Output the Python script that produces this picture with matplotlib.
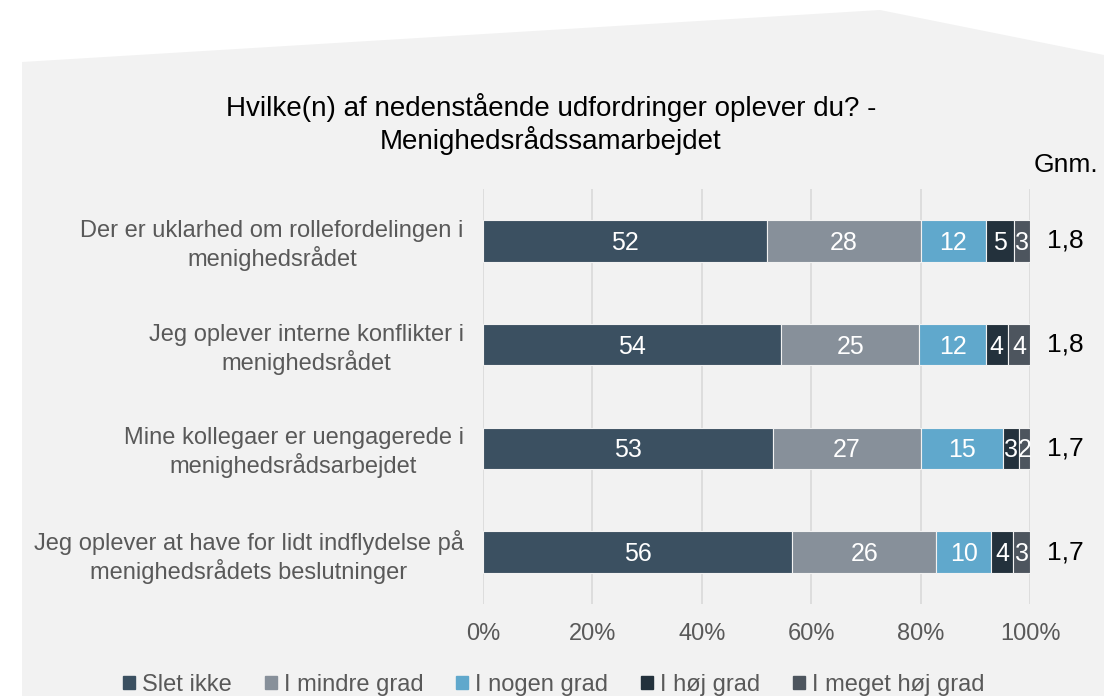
import numpy as np
import pandas as pd
import matplotlib.pyplot as plt
from matplotlib.patches import Polygon

plt.rcParams['font.family'] = ['Liberation Sans', 'DejaVu Sans']

title = "Hvilke(n) af nedenstående udfordringer oplever du? -\nMenighedsrådssamarbejdet"
questions = [
    "Der er uklarhed om rollefordelingen i\nmenighedsrådet",
    "Jeg oplever interne konflikter i\nmenighedsrådet",
    "Mine kollegaer er uengagerede i\nmenighedsrådsarbejdet",
    "Jeg oplever at have for lidt indflydelse på\nmenighedsrådets beslutninger",
]
levels = ["Slet ikke", "I mindre grad", "I nogen grad", "I høj grad", "I meget høj grad"]
slet_ikke = [52, 54, 53, 56]
mindre = [28, 25, 27, 26]
nogen = [12, 12, 15, 10]
hoej = [5, 4, 3, 4]
meget_hoej = [3, 4, 2, 3]
gnm = ["1,8", "1,8", "1,7", "1,7"]

colors = ["#3B5061", "#87909A", "#60A8CC", "#23313C", "#4D555E"]
bg = "#F2F2F2"

df = pd.DataFrame({"Slet ikke": slet_ikke, "I mindre grad": mindre, "I nogen grad": nogen,
                   "I høj grad": hoej, "I meget høj grad": meget_hoej}, index=questions)
# 100% stacked: scale each row so the bar ends at 100
shares = df.div(df.sum(axis=1), axis=0)

W, H = 1104, 696
fig = plt.figure(figsize=(W / 100, H / 100), dpi=100)
fig.patch.set_facecolor("white")

# gray background shape
pts = [(22, 62), (880, 10), (1104, 55), (1104, 696), (22, 696)]
fig.patches.append(Polygon([(x / W, 1 - y / H) for x, y in pts], closed=True,
                           transform=fig.transFigure, facecolor=bg, edgecolor="none", zorder=-1))

ax = fig.add_axes([483 / W, 1 - 604 / H, 547 / W, 415 / H])
ax.set_facecolor("none")

y = np.arange(len(questions))
left = np.zeros(len(questions))
for i, lev in enumerate(levels):
    w = shares[lev].values
    ax.barh(y, w, left=left, height=0.4, color=colors[i], edgecolor=bg, linewidth=0.8, zorder=3)
    for yy, l, ww, v in zip(y, left, w, df[lev].values):
        ax.text(l + ww / 2, yy + 0.02, str(v), ha="center", va="center", color="white",
                fontsize=18, zorder=4)
    left += w

ax.set_xlim(0, 1)
ax.set_ylim(3.5, -0.5)
ax.set_xticks(np.linspace(0, 1, 6))
ax.set_xticklabels([f"{int(t)}%" for t in np.linspace(0, 100, 6)], fontsize=17, color="#595959")
ax.tick_params(axis="x", length=0, pad=14)
ax.set_yticks(y)
ax.set_yticklabels(questions, fontsize=17, color="#595959", ha="right", multialignment="center")
ax.tick_params(axis="y", length=0, pad=14)
ax.grid(axis="x", color="#D9D9D9", linewidth=1.2, zorder=0)
for s in ax.spines.values():
    s.set_visible(False)

for yy, g in zip(y, gnm):
    ax.text(1.064, yy, g, transform=ax.get_yaxis_transform(), ha="center", va="center",
            fontsize=19, color="black")
fig.text(1066 / W, 1 - 165 / H, "Gnm.", ha="center", va="center", fontsize=19, color="black")

fig.text(551 / W, 1 - 124 / H, title, ha="center", va="center", fontsize=20, color="black",
         linespacing=1.15)

handles = [plt.Rectangle((0, 0), 1, 1, color=c) for c in colors]
fig.legend(handles, levels, loc="center", bbox_to_anchor=(554 / W, 1 - 685 / H), ncol=5,
           frameon=False, fontsize=17, handlelength=0.5, handleheight=0.5, handletextpad=0.3,
           columnspacing=1.4, labelcolor="#595959")

fig.savefig("out.png", dpi=100)
